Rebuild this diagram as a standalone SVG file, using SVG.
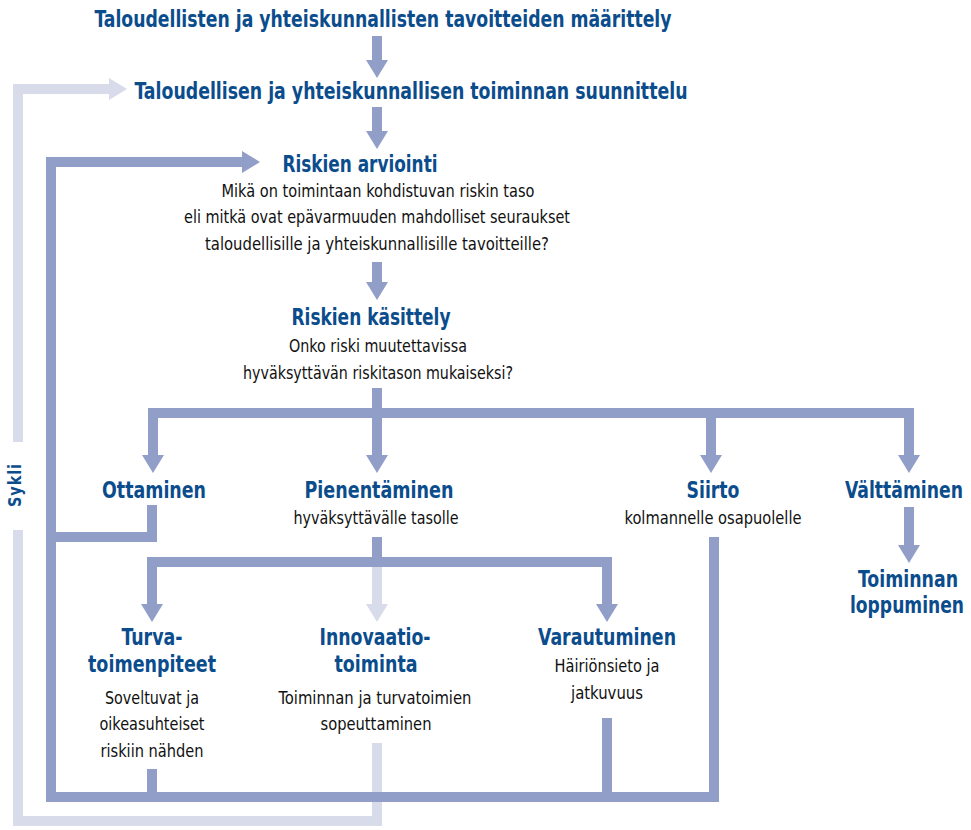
<svg xmlns="http://www.w3.org/2000/svg" width="971" height="830" viewBox="0 0 971 830">
<style>
.t{font-family:"Liberation Sans Narrow","DejaVu Sans Condensed","Liberation Sans",sans-serif;font-weight:bold;font-size:23px;fill:#0b4d8c;text-anchor:middle}
.b{font-family:"Liberation Sans Narrow","DejaVu Sans Condensed","Liberation Sans",sans-serif;font-size:17.5px;fill:#111;text-anchor:middle}
.d{fill:none;stroke:#919ec8;stroke-width:10;stroke-linejoin:miter}
.l{fill:none;stroke:#d8dcea;stroke-width:10;stroke-linejoin:miter}
</style>
<defs>
<marker id="ad" markerUnits="userSpaceOnUse" markerWidth="18" markerHeight="22" viewBox="0 0 18 22" refX="0" refY="11" orient="auto"><path d="M0,0 L18,11 L0,22 z" fill="#919ec8"/></marker>
<marker id="al" markerUnits="userSpaceOnUse" markerWidth="18" markerHeight="22" viewBox="0 0 18 22" refX="0" refY="11" orient="auto"><path d="M0,0 L18,11 L0,22 z" fill="#d8dcea"/></marker>
</defs>
<g id="connectors">
<polyline class="l" points="18,442 18,89 109,89" marker-end="url(#al)"/>
<polyline class="l" points="18,530 18,821 377,821 377,743"/>
<line class="l" x1="377" y1="567" x2="377" y2="604" marker-end="url(#al)"/>
<line class="d" x1="377" y1="36" x2="377" y2="60" marker-end="url(#ad)"/>
<line class="d" x1="377" y1="107" x2="377" y2="131" marker-end="url(#ad)"/>
<line class="d" x1="377" y1="262" x2="377" y2="282" marker-end="url(#ad)"/>
<polyline class="d" points="714,537 714,797 51,797 51,162 242,162" marker-end="url(#ad)"/>
<polyline class="d" points="152,505 152,537 51,537"/>
<line class="d" x1="152" y1="769" x2="152" y2="797"/>
<line class="d" x1="607" y1="718" x2="607" y2="797"/>
<line class="d" x1="377" y1="388" x2="377" y2="413"/>
<polyline class="d" points="153,413 909,413"/>
<line class="d" x1="153" y1="408" x2="153" y2="455" marker-end="url(#ad)"/>
<line class="d" x1="377" y1="413" x2="377" y2="455" marker-end="url(#ad)"/>
<line class="d" x1="711" y1="413" x2="711" y2="455" marker-end="url(#ad)"/>
<line class="d" x1="909" y1="408" x2="909" y2="455" marker-end="url(#ad)"/>
<line class="d" x1="909" y1="507" x2="909" y2="545" marker-end="url(#ad)"/>
<line class="d" x1="377" y1="537" x2="377" y2="562"/>
<polyline class="d" points="152,562 607,562"/>
<line class="d" x1="152" y1="557" x2="152" y2="604" marker-end="url(#ad)"/>
<line class="d" x1="607" y1="557" x2="607" y2="604" marker-end="url(#ad)"/>
</g>
<g id="sykli"><text class="t" style="font-size:17px;letter-spacing:1px" transform="translate(21,485) rotate(-90)" textLength="44" lengthAdjust="spacingAndGlyphs">Sykli</text></g>
<g id="n1"><text class="t" x="383" y="27" textLength="577" lengthAdjust="spacingAndGlyphs">Taloudellisten ja yhteiskunnallisten tavoitteiden määrittely</text></g>
<g id="n2"><text class="t" x="411" y="99" textLength="553" lengthAdjust="spacingAndGlyphs">Taloudellisen ja yhteiskunnallisen toiminnan suunnittelu</text></g>
<g id="n3">
<text class="t" x="360" y="172" textLength="155" lengthAdjust="spacingAndGlyphs">Riskien arviointi</text>
<text class="b" x="378" y="197" textLength="313" lengthAdjust="spacingAndGlyphs">Mikä on toimintaan kohdistuvan riskin taso</text>
<text class="b" x="377" y="223" textLength="386" lengthAdjust="spacingAndGlyphs">eli mitkä ovat epävarmuuden mahdolliset seuraukset</text>
<text class="b" x="377" y="250" textLength="344" lengthAdjust="spacingAndGlyphs">taloudellisille ja yhteiskunnallisille tavoitteille?</text>
</g>
<g id="n4">
<text class="t" x="371" y="325" textLength="159" lengthAdjust="spacingAndGlyphs">Riskien käsittely</text>
<text class="b" x="378" y="352" textLength="178" lengthAdjust="spacingAndGlyphs">Onko riski muutettavissa</text>
<text class="b" x="378" y="379" textLength="270" lengthAdjust="spacingAndGlyphs">hyväksyttävän riskitason mukaiseksi?</text>
</g>
<g id="n5"><text class="t" x="154" y="498" textLength="104" lengthAdjust="spacingAndGlyphs">Ottaminen</text></g>
<g id="n6">
<text class="t" x="379" y="498" textLength="149" lengthAdjust="spacingAndGlyphs">Pienentäminen</text>
<text class="b" x="376" y="524" textLength="165" lengthAdjust="spacingAndGlyphs">hyväksyttävälle tasolle</text>
</g>
<g id="n7">
<text class="t" x="713" y="498" textLength="53" lengthAdjust="spacingAndGlyphs">Siirto</text>
<text class="b" x="713" y="524" textLength="177" lengthAdjust="spacingAndGlyphs">kolmannelle osapuolelle</text>
</g>
<g id="n8"><text class="t" x="904" y="498" textLength="118" lengthAdjust="spacingAndGlyphs">Välttäminen</text></g>
<g id="n9">
<text class="t" x="908" y="587" textLength="100" lengthAdjust="spacingAndGlyphs">Toiminnan</text>
<text class="t" x="907" y="613" textLength="114" lengthAdjust="spacingAndGlyphs">loppuminen</text>
</g>
<g id="n10">
<text class="t" x="152" y="645" textLength="61" lengthAdjust="spacingAndGlyphs">Turva-</text>
<text class="t" x="152" y="672" textLength="128" lengthAdjust="spacingAndGlyphs">toimenpiteet</text>
<text class="b" x="152" y="704" textLength="94" lengthAdjust="spacingAndGlyphs">Soveltuvat ja</text>
<text class="b" x="152" y="730" textLength="105" lengthAdjust="spacingAndGlyphs">oikeasuhteiset</text>
<text class="b" x="152" y="757" textLength="103" lengthAdjust="spacingAndGlyphs">riskiin nähden</text>
</g>
<g id="n11">
<text class="t" x="375" y="645" textLength="111" lengthAdjust="spacingAndGlyphs">Innovaatio-</text>
<text class="t" x="376" y="672" textLength="83" lengthAdjust="spacingAndGlyphs">toiminta</text>
<text class="b" x="375" y="704" textLength="193" lengthAdjust="spacingAndGlyphs">Toiminnan ja turvatoimien</text>
<text class="b" x="376" y="730" textLength="111" lengthAdjust="spacingAndGlyphs">sopeuttaminen</text>
</g>
<g id="n12">
<text class="t" x="607" y="645" textLength="138" lengthAdjust="spacingAndGlyphs">Varautuminen</text>
<text class="b" x="607" y="672" textLength="105" lengthAdjust="spacingAndGlyphs">Häiriönsieto ja</text>
<text class="b" x="607" y="699" textLength="72" lengthAdjust="spacingAndGlyphs">jatkuvuus</text>
</g>
</svg>
